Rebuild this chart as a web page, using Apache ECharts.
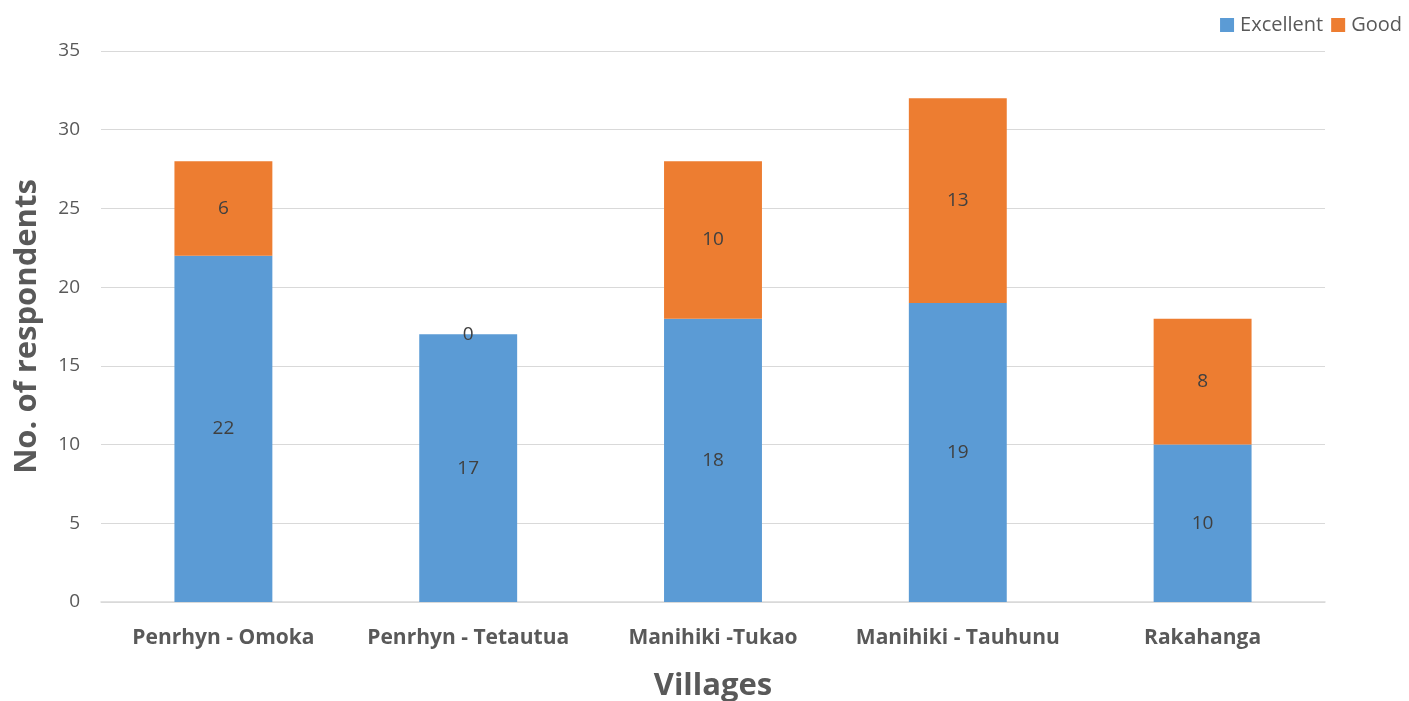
<!DOCTYPE html>
<html><head><meta charset="utf-8">
<script src="https://cdn.jsdelivr.net/npm/echarts@6/dist/echarts.min.js"></script>
<style>html,body{margin:0;padding:0;background:#fff}#c{width:1409px;height:701px}</style>
</head><body><div id="c"></div>
<script>
const categories = ["Penrhyn - Omoka", "Penrhyn - Tetautua", "Manihiki -Tukao", "Manihiki - Tauhunu", "Rakahanga"];
const excellent = [22, 17, 18, 19, 10];
const good = [6, 0, 10, 13, 8];
const seriesNames = ["Excellent", "Good"];

const font = "'Open Sans', sans-serif";
const chart = echarts.init(document.getElementById('c'), null, {renderer: 'canvas'});
const labelStyle = {show: true, position: 'inside', color: '#404040', fontSize: 19, fontFamily: font};
chart.setOption({
  animation: false,
  textStyle: {fontFamily: font},
  legend: {
    data: seriesNames, right: 2, top: 10, itemWidth: 14, itemHeight: 14, itemGap: 8,
    icon: 'rect',
    textStyle: {color: '#595959', fontSize: 20, fontFamily: font, padding: [0, 0, 0, 1]}
  },
  grid: {left: 101, right: 84, top: 51, bottom: 99, containLabel: false, outerBoundsMode: 'none'},
  xAxis: {
    type: 'category', data: categories,
    name: 'Villages', nameLocation: 'middle', nameGap: 69,
    nameTextStyle: {fontSize: 31, fontWeight: 'bold', color: '#595959', fontFamily: font},
    axisLine: {lineStyle: {color: '#d9d9d9', width: 1.5}},
    axisTick: {show: false},
    axisLabel: {color: '#595959', fontSize: 21, fontWeight: 'bold', margin: 26, fontFamily: font, interval: 0}
  },
  yAxis: {
    type: 'value', min: 0, max: 35, interval: 5,
    name: 'No. of respondents', nameLocation: 'middle', nameGap: 58,
    nameTextStyle: {fontSize: 31, fontWeight: 'bold', color: '#595959', fontFamily: font},
    axisLine: {show: false}, axisTick: {show: false},
    axisLabel: {color: '#595959', fontSize: 19, margin: 21, fontFamily: font},
    splitLine: {lineStyle: {color: '#d9d9d9', width: 1}}
  },
  series: [
    {name: seriesNames[0], type: 'bar', stack: 's', data: excellent, barWidth: '40%',
     itemStyle: {color: '#5b9bd5'}, label: labelStyle},
    {name: seriesNames[1], type: 'bar', stack: 's', data: good, barWidth: '40%',
     itemStyle: {color: '#ed7d31'}, label: labelStyle}
  ]
});
</script></body></html>
